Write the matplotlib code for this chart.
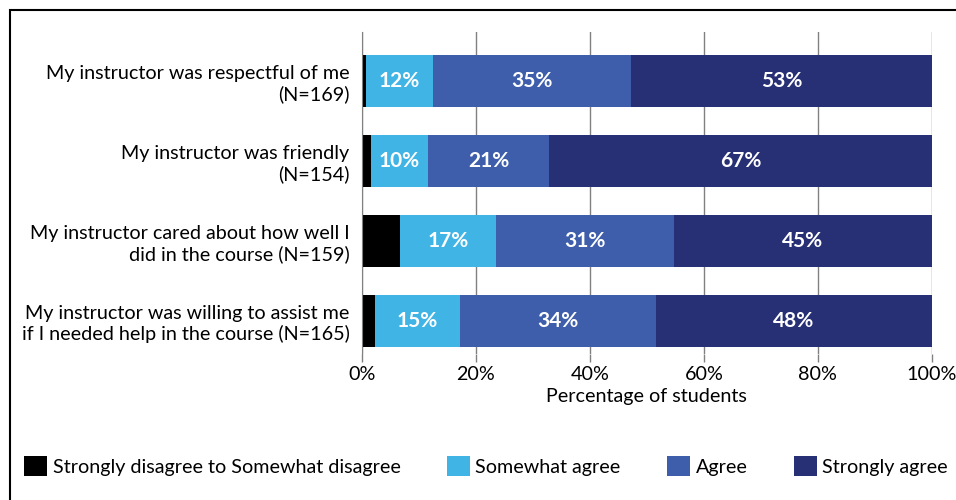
import matplotlib
matplotlib.use("Agg")
import matplotlib.pyplot as plt
from matplotlib.patches import Rectangle

# survey items (top to bottom) and response shares in percent
items = [
    "My instructor was respectful of me\n(N=169)",
    "My instructor was friendly\n(N=154)",
    "My instructor cared about how well I\ndid in the course (N=159)",
    "My instructor was willing to assist me\nif I needed help in the course (N=165)",
]
disagree = [0.7, 1.5, 6.7, 2.2]
somewhat_agree = [11.7, 10.0, 16.9, 15.0]
agree = [34.9, 21.4, 31.2, 34.4]
strongly_agree = [52.7, 67.1, 45.2, 48.4]

series = [
    ("Strongly disagree to Somewhat disagree", disagree, "#000000", False),
    ("Somewhat agree", somewhat_agree, "#41b4e6", True),
    ("Agree", agree, "#3e5eab", True),
    ("Strongly agree", strongly_agree, "#283075", True),
]
xticks = [0, 20, 40, 60, 80, 100]

plt.rcParams["font.family"] = ["Lato", "DejaVu Sans"]
FS = 14.2

W, H = 956, 500
fig = plt.figure(figsize=(W / 100, H / 100), dpi=100)
ax = fig.add_axes([362 / W, 1 - 354 / H, 569.7 / W, 322 / H])

pos = list(range(len(items)))
left = [0.0] * len(items)
for name, vals, color, labelled in series:
    bars = ax.barh(pos, vals, left=left, height=0.66, color=color, label=name, zorder=3)
    if labelled:
        ax.bar_label(bars, labels=[f"{v:.0f}%" for v in vals], label_type="center",
                     color="white", fontsize=15, fontweight="bold")
    left = [l + v for l, v in zip(left, vals)]

ax.set_ylim(3.4125, -0.6125)
ax.set_xlim(0, 100)
ax.set_yticks(pos)
ax.set_yticklabels(items, fontsize=FS, ha="right", multialignment="right")
ax.set_xticks(xticks)
ax.set_xticklabels([f"{t}%" for t in xticks], fontsize=FS)
ax.tick_params(axis="y", length=0, pad=9)
ax.tick_params(axis="x", length=6, width=1, color="#808080", pad=3)
ax.set_xlabel("Percentage of students", fontsize=FS, labelpad=3)

ax.grid(axis="x", color="#808080", linewidth=1, zorder=0)
for side in ["top", "right", "bottom"]:
    ax.spines[side].set_visible(False)
ax.spines["left"].set_color("#808080")
ax.spines["left"].set_zorder(4)

fig.legend(loc="center left", bbox_to_anchor=(24 / W, 1 - 466 / H), ncol=4,
           frameon=False, fontsize=FS, handlelength=1.15, handleheight=1.15,
           handletextpad=0.3, columnspacing=2.35, borderpad=0, borderaxespad=0)

# outer frame, running off the right and bottom edges
fig.patches.append(Rectangle((10 / W, -0.1), 1.2, 1.1 - 10 / H, transform=fig.transFigure,
                             fill=False, edgecolor="black", linewidth=1.5))

fig.savefig("out.png", dpi=100)
